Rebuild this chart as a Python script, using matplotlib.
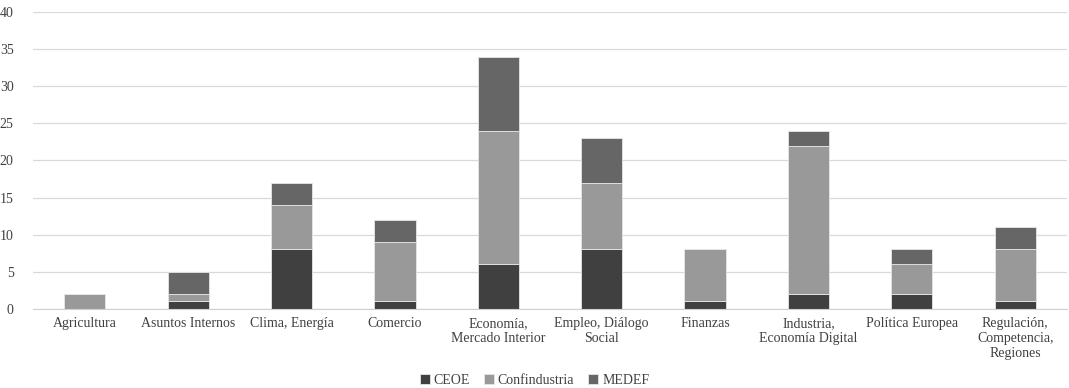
import numpy as np
import matplotlib
matplotlib.use('Agg')
import matplotlib.pyplot as plt

plt.rcParams['font.family'] = ['Liberation Serif', 'DejaVu Serif']

categorias = ['Agricultura', 'Asuntos Internos', 'Clima, Energía', 'Comercio',
              'Economía,\nMercado Interior', 'Empleo, Diálogo\nSocial', 'Finanzas',
              'Industria,\nEconomía Digital', 'Política Europea',
              'Regulación,\nCompetencia,\nRegiones']
ceoe = [0, 1, 8, 1, 6, 8, 1, 2, 2, 1]
confindustria = [2, 1, 6, 8, 18, 9, 7, 20, 4, 7]
medef = [0, 3, 3, 3, 10, 6, 0, 2, 2, 3]

series = [('CEOE', ceoe, '#404040'),
          ('Confindustria', confindustria, '#999999'),
          ('MEDEF', medef, '#666666')]

fig = plt.figure(figsize=(10.69, 3.88), dpi=100)
ax = fig.add_axes([0.031, 0.204, 0.967, 0.765])

x = np.arange(len(categorias))
bottom = np.zeros(len(categorias))
for nombre, vals, color in series:
    vals = np.array(vals)
    ax.bar(x, vals, 0.4, bottom=bottom, color=color, edgecolor='#e6e6e6',
           linewidth=0.6, label=nombre, zorder=3)
    bottom += vals

ax.set_xlim(-0.5, len(categorias) - 0.5)
ax.set_ylim(0, 40)
ax.set_yticks(range(0, 41, 5))
ax.set_xticks(x)
ax.set_xticklabels(categorias, fontsize=10, color='#404040', linespacing=1.2)
ax.tick_params(axis='y', labelsize=10, colors='#404040', length=0, pad=14)
ax.tick_params(axis='x', length=0, pad=6)
ax.grid(axis='y', color='#d9d9d9', linewidth=0.9, zorder=0)
for s in ['top', 'right', 'left']:
    ax.spines[s].set_visible(False)
ax.spines['bottom'].set_color('#d0d0d0')
ax.spines['bottom'].set_zorder(4)

fig.legend(loc='lower center', bbox_to_anchor=(0.5, -0.03), ncol=3, frameon=False,
           fontsize=10, handlelength=0.7, handleheight=0.7, handletextpad=0.3,
           columnspacing=1.0, labelcolor='#404040')

fig.savefig('out.png', dpi=100)
